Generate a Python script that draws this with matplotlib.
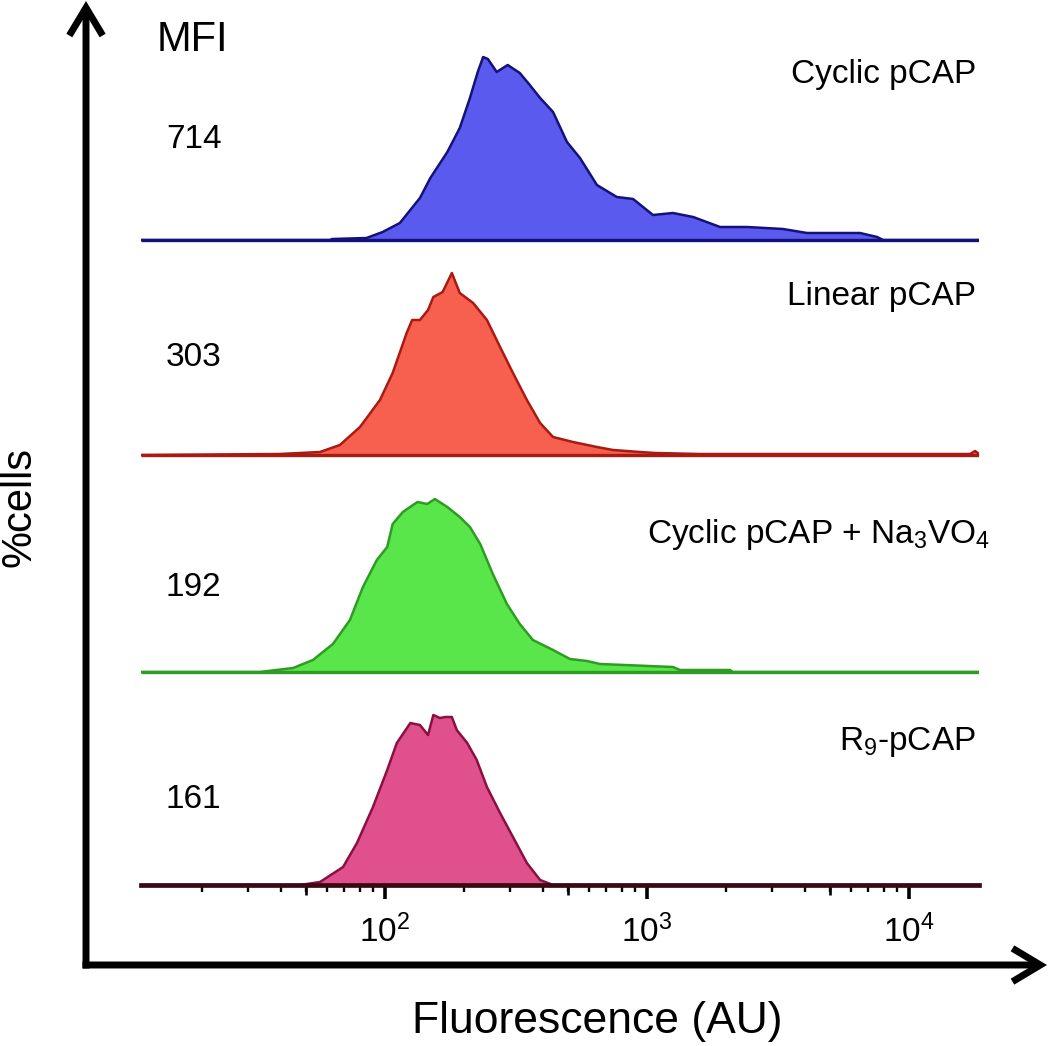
import matplotlib
matplotlib.use("Agg")
import matplotlib.pyplot as plt
import numpy as np
from matplotlib.patches import FancyArrowPatch, ArrowStyle
from matplotlib.ticker import LogLocator, LogFormatterSciNotation, NullFormatter, FixedLocator

plt.rcParams['font.family'] = ['Liberation Sans', 'DejaVu Sans']
plt.rcParams['mathtext.fontset'] = 'custom'
plt.rcParams['mathtext.rm'] = 'Liberation Sans'
plt.rcParams['mathtext.it'] = 'Liberation Sans:italic'
plt.rcParams['mathtext.bf'] = 'Liberation Sans:bold'

# ---------------- data (fluorescence in AU, relative cell counts) ----------------
samples = ["Cyclic pCAP", "Linear pCAP", "Cyclic pCAP + Na$_3$VO$_4$", "R$_9$-pCAP"]
mfi = [714, 303, 192, 161]

blue_x = [11.7, 61.6, 63, 85, 98, 114, 136, 149, 173, 193, 211, 226, 237, 247, 267, 294, 327,
          357, 391, 438, 495, 555, 644, 767, 885, 1054, 1256, 1500, 1901, 2410, 3304, 4083,
          6501, 7551, 7962, 18490]
blue_y = [0, 0, 1, 2, 8, 17, 42, 62, 88, 112, 142, 168, 183, 181, 168, 175, 167,
          155, 142, 128, 98, 82, 55, 43, 41, 25, 27, 23, 13, 13, 11, 7,
          7, 3, 0, 0]

red_x = [11.7, 39.7, 56.5, 67.3, 80.3, 95.7, 107, 121, 127, 136, 146, 153, 166, 180, 193, 217,
         245, 275, 308, 348, 391, 438, 522, 644, 742, 940, 1075, 1592, 17100, 17870, 18490]
red_y = [0, 1, 3, 10, 28, 55, 82, 122, 135, 135, 145, 158, 163, 182, 162, 152,
         135, 108, 82, 55, 32, 18, 13, 8, 5, 3, 2, 1, 1, 4, 1]

green_x = [11.7, 33.3, 44.6, 53.1, 63.3, 73.5, 82.4, 93.1, 102, 107, 117, 133, 145, 155, 173,
           193, 211, 231, 258, 292, 327, 367, 438, 508, 590, 662, 1256, 1336, 2075, 2128, 18490]
green_y = [0, 0, 4, 12, 28, 52, 85, 112, 125, 148, 160, 170, 168, 173, 165,
           155, 145, 128, 98, 68, 48, 32, 22, 13, 11, 8, 5, 2, 2, 0, 0]

pink_x = [11.7, 47.4, 56.5, 69.2, 78.2, 90, 102, 111, 125, 136, 146, 153, 162, 170, 180, 188,
          206, 224, 245, 275, 308, 348, 391, 438, 18490]
pink_y = [0, 0, 3, 18, 42, 78, 115, 142, 162, 160, 150, 170, 167, 168, 168, 155,
          142, 125, 98, 72, 48, 22, 5, 0, 0]

series_x = [blue_x, red_x, green_x, pink_x]
series_y = [blue_y, red_y, green_y, pink_y]

# ---------------- styling ----------------
fills = ['#5a5aee', '#f7604f', '#58e64a', '#e0508c']
edges = ['#12127a', '#a81a12', '#2e9c22', '#8a1040']
offsets = [645, 430, 213, 0]

W, H = 1050, 1046
fig = plt.figure(figsize=(W / 100, H / 100), dpi=100)

def fx(px):
    return px / W

def fy(py):
    return 1 - py / H

ax = fig.add_axes([fx(141), fy(885), (979 - 141) / W, (885 - 40) / H])
ax.set_xscale('log')
ax.set_xlim(10 ** 1.069, 10 ** 4.267)
ax.set_ylim(0, 845)

for xs, ys, fc, ec, off in zip(series_x, series_y, fills, edges, offsets):
    xs = np.array(xs, dtype=float)
    ys = np.array(ys, dtype=float) + off
    ax.fill_between(xs, off, ys, color=fc, lw=0, zorder=2)
    ax.plot(xs, ys, color=ec, lw=1.8, zorder=3, solid_joinstyle='round')
    if off > 0:
        ax.plot([xs[0], xs[-1]], [off, off], color=ec, lw=2.4, zorder=3, solid_capstyle='butt')

for s in ['top', 'right', 'left']:
    ax.spines[s].set_visible(False)
ax.spines['bottom'].set_color('#3a0a14')
ax.spines['bottom'].set_linewidth(3.4)
ax.spines['bottom'].set_zorder(4)
ax.set_yticks([])
ax.patch.set_alpha(0)

ax.xaxis.set_major_locator(LogLocator(base=10, numticks=10))
ax.xaxis.set_minor_locator(LogLocator(base=10, subs=np.arange(2, 10), numticks=20))
ax.xaxis.set_major_formatter(LogFormatterSciNotation())
ax.xaxis.set_minor_formatter(NullFormatter())
ax.tick_params(axis='x', which='major', length=10, width=2.6, color='black',
               labelsize=24, pad=11, direction='out')
ax.tick_params(axis='x', which='minor', length=5, width=1.7, color='black', direction='out')

sec = ax.secondary_xaxis('bottom')
sec.set_xticks([50, 500, 5000])
sec.set_xticklabels(['', '', ''])
sec.tick_params(length=7.5, width=1.9, color='black')
sec.spines['bottom'].set_visible(False)
sec.xaxis.set_minor_locator(FixedLocator([]))

# ---------------- axis arrows ----------------
lw_ax = 5
vline = FancyArrowPatch((fx(86), fy(968.5)), (fx(86), fy(1)), transform=fig.transFigure,
                        arrowstyle=ArrowStyle('->', head_length=1.0, head_width=0.6),
                        mutation_scale=20, lw=lw_ax, color='black', capstyle='butt',
                        joinstyle='miter', shrinkA=0, shrinkB=0)
hline = FancyArrowPatch((fx(82.5), fy(965)), (fx(1047), fy(965)), transform=fig.transFigure,
                        arrowstyle=ArrowStyle('->', head_length=1.0, head_width=0.6),
                        mutation_scale=20, lw=lw_ax, color='black', capstyle='butt',
                        joinstyle='miter', shrinkA=0, shrinkB=0)
fig.add_artist(vline)
fig.add_artist(hline)

# ---------------- texts ----------------
fig.text(fx(157), fy(40), "MFI", fontsize=30, ha='left', va='center')
mfi_y = [140, 357, 587, 800]
for v, yy in zip(mfi, mfi_y):
    fig.text(fx(166), fy(yy), str(v), fontsize=24, ha='left', va='center')

lab_y = [75, 297, 535, 742]
lab_x = [976, 976, 990, 976]
for s, xx, yy in zip(samples, lab_x, lab_y):
    fig.text(fx(xx), fy(yy), s, fontsize=24, ha='right', va='center')

fig.text(fx(20), fy(507), "%cells", fontsize=30, rotation=90, ha='center', va='center')
fig.text(fx(597), fy(1022), "Fluorescence (AU)", fontsize=32, ha='center', va='center')

fig.savefig("out.png", dpi=100)
